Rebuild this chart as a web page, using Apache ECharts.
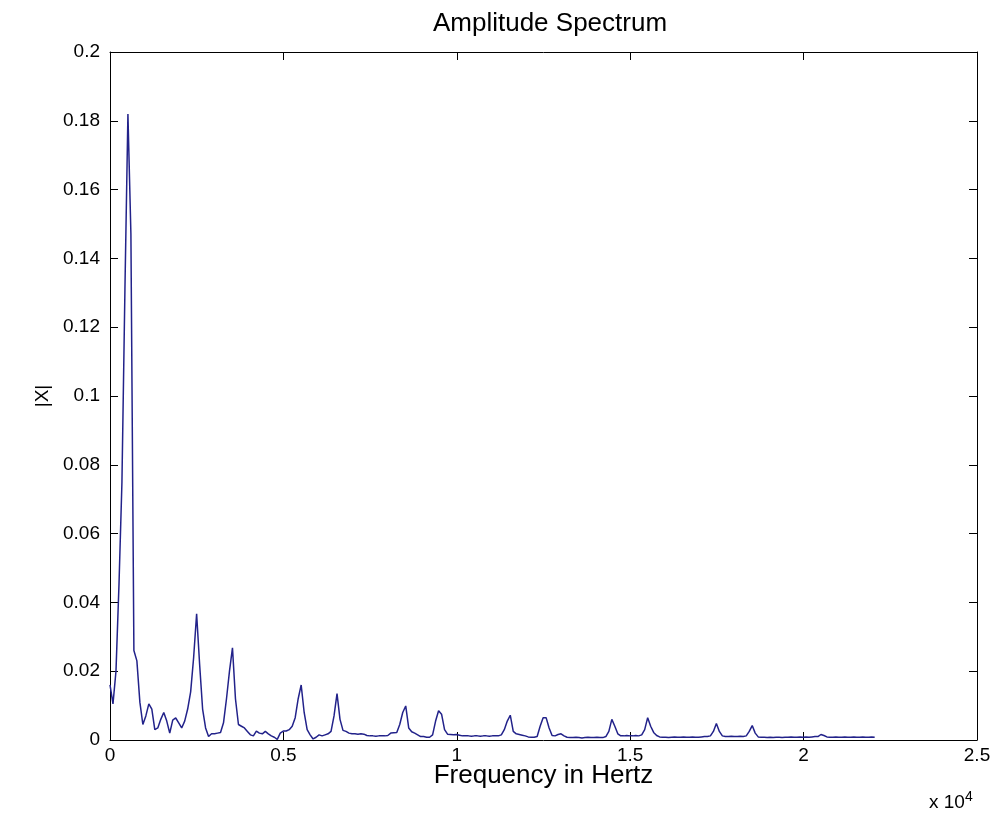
<!DOCTYPE html>
<html><head><meta charset="utf-8">
<script src="https://cdn.jsdelivr.net/npm/echarts@6/dist/echarts.min.js"></script>
<style>html,body{margin:0;padding:0;background:#fff}#c{width:1000px;height:820px}</style>
</head><body><div id="c"></div>
<script>
const sampleRate = 44100;
const fftSize = 512;
const amplitude = [
  0.016, 0.0105, 0.020, 0.045, 0.075, 0.131, 0.182, 0.147, 0.026, 0.023,
  0.011, 0.0045, 0.007, 0.0105, 0.009, 0.003, 0.0035, 0.006, 0.008, 0.0055,
  0.002, 0.0058, 0.0064, 0.005, 0.0035, 0.0055, 0.009, 0.014, 0.024, 0.0367,
  0.022, 0.009, 0.0035, 0.001, 0.0018, 0.0018, 0.002, 0.0022, 0.005, 0.012,
  0.020, 0.0268, 0.012, 0.0045, 0.004, 0.0035, 0.0025, 0.0015, 0.0012, 0.0026,
  0.002, 0.0018, 0.0025, 0.0018, 0.0012, 0.0008, 0.0002, 0.002, 0.0026, 0.0026,
  0.003, 0.004, 0.0065, 0.012, 0.016, 0.008, 0.003, 0.0015, 0.0003, 0.0008,
  0.0015, 0.0012, 0.0015, 0.0018, 0.0025, 0.007, 0.0135, 0.006, 0.0028, 0.0025,
  0.002, 0.0018, 0.0018, 0.0017, 0.0018, 0.0017, 0.0013, 0.0012, 0.0012, 0.0011,
  0.0012, 0.0012, 0.0012, 0.0013, 0.002, 0.0021, 0.0022, 0.0045, 0.008, 0.0099,
  0.0035, 0.0024, 0.002, 0.0015, 0.001, 0.001, 0.0008, 0.0008, 0.0015, 0.0055,
  0.0085, 0.0075, 0.003, 0.0017, 0.0016, 0.0015, 0.0016, 0.0014, 0.0012, 0.0012,
  0.0012, 0.0011, 0.0012, 0.0012, 0.0011, 0.0012, 0.0012, 0.0011, 0.0012, 0.0012,
  0.0012, 0.0015, 0.003, 0.0055, 0.0072, 0.0025, 0.0018, 0.0016, 0.0014, 0.0012,
  0.0009, 0.0008, 0.0008, 0.001, 0.004, 0.0065, 0.0065, 0.0035, 0.0013, 0.0012,
  0.0016, 0.0018, 0.0012, 0.0008, 0.0007, 0.0007, 0.0008, 0.0007, 0.0006, 0.0007,
  0.0008, 0.0007, 0.0007, 0.0008, 0.0007, 0.0007, 0.001, 0.0025, 0.006, 0.004,
  0.0018, 0.0012, 0.0012, 0.0013, 0.0012, 0.0012, 0.0013, 0.0012, 0.0015, 0.003,
  0.0065, 0.004, 0.0022, 0.0013, 0.0009, 0.0008, 0.0008, 0.0007, 0.0008, 0.0009,
  0.0008, 0.0008, 0.0009, 0.0008, 0.0008, 0.0009, 0.0008, 0.0008, 0.0009, 0.001,
  0.001, 0.0012, 0.0025, 0.0048, 0.0025, 0.0012, 0.001, 0.001, 0.0011, 0.001,
  0.001, 0.0011, 0.001, 0.0012, 0.0025, 0.0042, 0.002, 0.0009, 0.0008, 0.0008,
  0.0007, 0.0008, 0.0007, 0.0008, 0.0008, 0.0007, 0.0008, 0.0008, 0.0009, 0.0008,
  0.0008, 0.0009, 0.0008, 0.0009, 0.0008, 0.0009, 0.001, 0.001, 0.0016, 0.0013,
  0.0009, 0.0008, 0.0008, 0.0009, 0.0008, 0.0008, 0.0009, 0.0008, 0.0008, 0.0009,
  0.0008, 0.0008, 0.0009, 0.0008, 0.0008, 0.0009, 0.0008
];
const xTickLabels = ['0', '0.5', '1', '1.5', '2', '2.5'];
const yTickLabels = ['0', '0.02', '0.04', '0.06', '0.08', '0.1', '0.12', '0.14', '0.16', '0.18', '0.2'];
const titleText = 'Amplitude Spectrum';
const xLabelText = 'Frequency in Hertz';
const yLabelText = '|X|';

const binWidth = sampleRate / fftSize;
const seriesData = amplitude.map((v, k) => [k * binWidth, v]);

const FONT = 'Liberation Sans';
const black = '#000';
const chart = echarts.init(document.getElementById('c'), null, {renderer: 'canvas'});

const tickStyle = {show: true, inside: true, length: 8, lineStyle: {color: black, width: 1}};
const lineStyle = {show: true, onZero: false, lineStyle: {color: black, width: 1}};

chart.setOption({
  backgroundColor: '#fff',
  animation: false,
  title: {
    text: titleText, left: 545, top: 6, textAlign: 'center',
    textStyle: {fontFamily: FONT, fontSize: 26, fontWeight: 'normal', color: black}
  },
  grid: {left: 110, right: 23, top: 52, bottom: 80, containLabel: false},
  xAxis: [{
    type: 'value', min: 0, max: 25000, interval: 5000, position: 'bottom',
    axisLine: lineStyle, axisTick: tickStyle, splitLine: {show: false},
    axisLabel: {margin: 6, fontFamily: FONT, fontSize: 19, color: black,
      formatter: (v) => xTickLabels[Math.round(v / 5000)]},
    name: xLabelText, nameLocation: 'middle', nameGap: 23, nameMoveOverlap: false,
    nameTextStyle: {fontFamily: FONT, fontSize: 26, color: black}
  }, {
    type: 'value', min: 0, max: 25000, interval: 5000, position: 'top',
    axisLine: lineStyle, axisTick: tickStyle, splitLine: {show: false},
    axisLabel: {show: false}
  }],
  yAxis: [{
    type: 'value', min: 0, max: 0.2, interval: 0.02, position: 'left',
    axisLine: lineStyle, axisTick: tickStyle, splitLine: {show: false},
    axisLabel: {margin: 10, fontFamily: FONT, fontSize: 19, color: black,
      formatter: (v) => yTickLabels[Math.round(v / 0.02)]},
    name: yLabelText, nameLocation: 'middle', nameGap: 58, nameRotate: 90, nameMoveOverlap: false,
    nameTextStyle: {fontFamily: FONT, fontSize: 19, color: black}
  }, {
    type: 'value', min: 0, max: 0.2, interval: 0.02, position: 'right',
    axisLine: lineStyle, axisTick: tickStyle, splitLine: {show: false},
    axisLabel: {show: false}
  }],
  graphic: [{
    type: 'text', left: 929, top: 790,
    style: {
      text: 'x 10{sup|4}', fontFamily: FONT, fontSize: 19, fill: black,
      rich: {sup: {fontFamily: FONT, fontSize: 14, fill: black, verticalAlign: 'top', padding: [0, 0, 12, 0]}}
    }
  }],
  series: [{
    type: 'line', data: seriesData, xAxisIndex: 0, yAxisIndex: 0,
    showSymbol: false, symbol: 'none',
    lineStyle: {color: '#22228a', width: 1.5}
  }]
});
</script></body></html>
